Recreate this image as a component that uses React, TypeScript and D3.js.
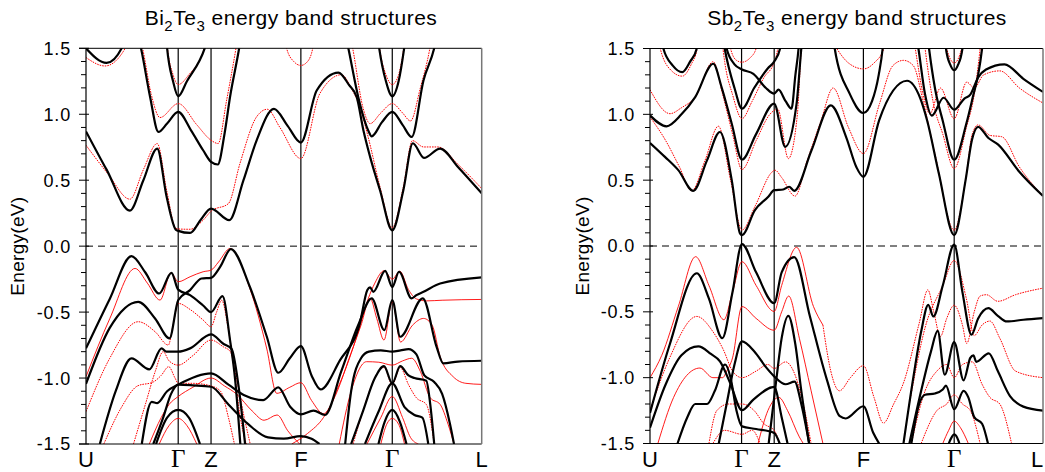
import React from 'react';
import * as d3 from 'd3';

type Pt = [number, number];

// k-path (U=0 ... L=100)
const kPoints = [0, 23.3, 31.6, 54.3, 77.4, 100];
const kLabels = ['U', 'Γ', 'Z', 'F', 'Γ', 'L'];
const yMajor = [1.5, 1.0, 0.5, 0.0, -0.5, -1.0, -1.5];
const yMajorLabels = ['1.5', '1.0', '0.5', '0.0', '-0.5', '-1.0', '-1.5'];

// ---------------- Bi2Te3 ----------------
const biBlack: Pt[][] = [
  [[0,0.87],[5.2,0.58],[11.1,0.27],[14.5,0.5],[18,0.74],[20.4,0.37],[22.7,0.125],[23.3,0.116],[26.3,0.10],[29,0.2],[31.6,0.285],[36.2,0.197],[39.8,0.5],[43.1,0.80],[47.5,1.04],[51,0.91],[54.3,0.785],[58.3,1.18],[63.8,1.316],[66.5,1.22],[68.4,1.131],[70.1,0.879],[71.8,0.677],[74.3,0.424],[77.4,0.12],[80.2,0.424],[82.6,0.78],[85.4,0.669],[89.5,0.74],[94,0.6],[100,0.40]],
  [[0,1.5],[5.2,1.389],[9,1.5],[11.5,1.75],[13.9,1.5],[16.2,1.131],[18.3,0.866],[20.5,0.93],[23.3,1.018],[26.5,0.88],[29.6,0.727],[31.6,0.639],[33.3,0.619],[35,0.85],[36.4,1.131],[38.7,1.5],[40,1.75]],
  [[63,1.95],[66.3,1.5],[68.8,1.131],[71.3,0.879],[72.2,0.833],[74.8,0.94],[77.4,1.018],[80,0.92],[82.3,0.828],[85.3,1.258],[88,1.5],[90,1.8]],
  [[19.5,1.9],[20.5,1.5],[22,1.25],[23.3,1.136],[25.5,1.25],[30,1.5],[31.5,1.65]],
  [[72.5,1.9],[74.1,1.5],[75.8,1.25],[77.4,1.136],[79,1.25],[80.4,1.5],[82,1.9]],
  [[0,-0.775],[6,-0.40],[11.5,-0.076],[15,-0.2],[18.5,-0.359],[21.6,-0.202],[23.3,-0.33],[26.3,-0.371],[29.6,-0.45],[31.6,-0.50],[34.5,-0.379],[36.4,-0.712],[37.7,-1.015],[39,-1.5]],
  [[0,-1.045],[6,-0.62],[13.2,-0.422],[17.5,-0.55],[21.1,-0.699],[23.3,-0.41],[26.3,-0.333],[29.2,-0.245],[31.6,-0.24],[33.9,-0.157],[36.6,-0.023],[41.4,-0.308],[45.7,-0.687],[48.6,-0.96],[51.5,-0.85],[54.3,-0.758],[57,-0.98],[59.3,-1.086],[64.2,-0.864],[69.2,-0.586],[71.1,-0.333],[71.8,-0.313],[72.6,-0.346],[75.6,-0.187],[77.4,-0.31],[79.1,-0.194],[82.3,-0.396],[83.5,-0.371],[85.3,-0.346],[89.5,-0.283],[100,-0.237]],
  [[3.5,-1.5],[7.5,-1.1],[11.5,-0.851],[16,-0.934],[19.1,-0.775],[20.3,-0.80],[23.3,-0.80],[26.3,-0.775],[31.6,-0.669],[34.7,-0.74],[36.8,-0.78],[38.5,-1.05],[40.2,-1.5]],
  [[14.1,-1.5],[16.6,-1.18],[18,-1.19],[20.5,-1.1],[23.3,-1.05],[31.6,-0.965],[36,-1.05],[40,-1.13],[44.8,-1.167],[48.6,-1.07],[51.6,-1.217],[54.3,-1.275],[57.5,-1.247],[60.4,-1.28],[64.5,-0.95],[68.8,-0.598],[72.2,-0.396],[75.4,-0.636],[77.4,-0.409],[79.4,-0.687],[85.1,-0.396],[88.6,-0.763],[90.3,-0.889],[94,-0.875],[100,-0.869]],
  [[17,-1.5],[19.5,-1.3],[21.5,-1.12],[23.3,-1.05],[27,-1.055],[31.6,-1.066],[36,-1.2],[41,-1.35],[46,-1.45],[50,-1.46],[54.3,-1.44],[57,-1.46],[59,-1.5]],
  [[17.7,-1.5],[20.5,-1.3],[23.3,-1.242],[26,-1.3],[28.8,-1.5]],
  [[65.5,-1.5],[67,-1.1],[69.5,-0.85],[71.5,-0.80],[74.5,-0.79],[77.4,-0.80],[79.5,-0.79],[81.5,-0.78],[83.5,-0.82],[85.5,-0.98],[88,-1.03],[90,-1.12],[92,-1.35],[93,-1.5]],
  [[67,-1.5],[70,-1.25],[73,-1.0],[75.3,-0.91],[77.4,-1.04],[79.4,-0.91],[81.5,-0.98],[83,-1.0],[86,-1.02],[87,-1.2],[88,-1.5]],
  [[70.5,-1.5],[74,-1.25],[77.4,-1.04],[80.5,-1.22],[83,-1.28],[85,-1.3],[86.5,-1.5]],
  [[73.9,-1.5],[75.5,-1.33],[77.4,-1.242],[79.3,-1.33],[81,-1.5]],
];

const biRedDot: Pt[][] = [
  [[0,0.765],[5.5,0.55],[11.1,0.356],[14.5,0.58],[18,0.778],[20.4,0.42],[22.7,0.134],[23.3,0.13],[26.3,0.128],[29.6,0.197],[31.6,0.265],[36,0.323],[38.9,0.626],[43.1,0.98],[45.8,1.038],[49,0.9],[54.3,0.664],[59.1,1.157],[64.6,1.30],[67,1.2],[69.2,1.055],[71.3,0.828],[74.3,0.449],[77.4,0.14],[80.2,0.449],[82.5,0.80],[85.3,0.752],[89,0.752],[94,0.62],[100,0.437]],
  [[0,1.43],[4.8,1.366],[9.9,1.5],[12,1.75],[14.3,1.5],[16.5,1.15],[18.7,0.975],[23.3,1.081],[28,0.92],[31.6,0.803],[33.4,0.778],[35.5,1.1],[37.9,1.5],[39.5,1.8]],
  [[64,1.95],[67.4,1.5],[70,1.05],[71.8,0.929],[74.5,1.01],[77.4,1.081],[80,1.01],[82,0.949],[84.5,1.2],[86.9,1.5],[88.5,1.8]],
  [[19.5,1.9],[20.6,1.5],[22,1.3],[23.3,1.225],[26,1.3],[29.9,1.5],[31.5,1.7]],
  [[72.8,1.9],[74.2,1.5],[75.8,1.3],[77.4,1.225],[79,1.3],[80.3,1.5],[81.8,1.9]],
  [[49,1.9],[50.7,1.5],[52.5,1.4],[54.3,1.37],[56,1.4],[57.3,1.5],[59,1.9]],
  [[0,-1.255],[6,-0.85],[13.2,-0.573],[17.5,-0.65],[20.8,-0.75],[22,-0.6],[23.3,-0.434],[26.3,-0.48],[29.6,-0.56],[31.6,-0.611],[33,-0.5],[34.3,-0.41],[35.8,-0.6],[37.5,-0.95],[39,-1.3],[40.5,-1.5]],
  [[4.5,-1.5],[9,-1.22],[13,-1.06],[17,-1.03],[19,-0.98],[20.9,-0.914],[22.5,-1.0],[23.3,-1.04],[27,-1.04],[31.6,-1.06],[34,-1.1],[36,-1.3],[37.5,-1.5]],
  [[12,-1.5],[15,-1.2],[17.5,-0.95],[19.5,-0.8],[21,-0.87],[23.3,-0.902],[27,-0.83],[31.6,-0.712],[34.7,-0.763],[36.5,-0.8],[38,-1.0],[40,-1.3],[41.5,-1.5]],
  [[67.5,-1.5],[70,-1.25],[73,-1.0],[75.3,-0.92],[77.4,-1.05],[79.4,-0.92],[81.5,-1.05],[83.5,-1.15],[86,-1.2],[88,-1.5]],
];

const biRedSolid: Pt[][] = [
  [[0,-0.99],[6,-0.55],[12.4,-0.169],[15.5,-0.28],[18.7,-0.409],[21.5,-0.202],[23.3,-0.27],[26.3,-0.232],[29.6,-0.194],[31.6,-0.182],[33.5,-0.12],[36.4,-0.018],[41.4,-0.32],[45.7,-0.78],[48.2,-1.116],[51.5,-1.07],[54.3,-1.035],[57,-1.17],[60,-1.27],[64,-1.05],[68.8,-0.65],[71.3,-0.4],[73,-0.28],[75.3,-0.187],[77.4,-0.25],[79.3,-0.19],[81.5,-0.33],[83.5,-0.40],[86,-0.415],[90,-0.41],[100,-0.404]],
  [[16,-1.5],[19,-1.3],[21,-1.2],[23.3,-1.14],[27,-1.07],[31.6,-1.0],[35,-1.06],[38,-1.12],[42,-1.25],[45,-1.32],[48.3,-1.28],[51,-1.4],[54,-1.5]],
  [[18.5,-1.5],[21,-1.36],[23.3,-1.306],[25.5,-1.36],[28,-1.5]],
  [[52,-1.5],[56,-1.42],[60,-1.3],[63.5,-1.1],[66.5,-0.85],[69.5,-0.6],[71.8,-0.396],[73.5,-0.55],[75.3,-0.712],[77.4,-0.42],[79.5,-0.727],[82.5,-0.6],[85.3,-0.548],[87.5,-0.6],[89.5,-0.838],[92.8,-0.99],[96,-1.04],[100,-1.048]],
  [[64,-1.5],[67,-1.1],[70.9,-0.876],[74,-0.88],[77.4,-0.902],[80,-0.87],[82.3,-0.85],[84.5,-0.95],[87,-1.15],[89.5,-1.2],[91.5,-1.35],[93,-1.5]],
  [[74.5,-1.5],[76,-1.35],[77.4,-1.306],[79,-1.35],[80.5,-1.5]],
  [[71,-1.5],[74.5,-1.3],[77.4,-1.14],[80,-1.3],[82,-1.45],[84,-1.5]],
];

// ---------------- Sb2Te3 ----------------
const sbBlack: Pt[][] = [
  [[0,0.783],[3.8,0.677],[7.2,0.576],[11,0.419],[14.5,0.65],[17.8,0.866],[20.8,0.5],[22.9,0.096],[23.4,0.083],[26.7,0.273],[30.1,0.374],[31.6,0.424],[33.9,0.429],[35.4,0.45],[36.7,0.419],[41.1,0.727],[46,1.068],[50,0.82],[52.5,0.6],[54.3,0.525],[58.3,0.955],[65.4,1.255],[68.8,1.119],[70.5,0.955],[73.5,0.55],[77.4,0.083],[80.3,0.5],[81.9,0.803],[83.5,0.905],[86.1,0.82],[88.6,0.77],[93.8,0.57],[100,0.38]],
  [[0,0.992],[4.2,0.909],[8,1.0],[11.5,1.131],[16.1,1.384],[18.2,1.207],[20.8,0.929],[23.4,0.657],[27,0.85],[31.6,1.081],[34.4,0.753],[37.3,1.081],[38.5,1.5],[39.5,1.8]],
  [[17,1.9],[19,1.5],[21.5,1.2],[23.4,1.043],[26.5,1.2],[30,1.35],[31.6,1.40],[33.1,1.5],[34,1.8]],
  [[18.5,1.8],[19.5,1.5],[21.5,1.38],[23.4,1.341],[26.3,1.308],[29.5,1.2],[31.6,1.157],[32.7,1.187],[34.5,1.1],[36,1.043],[37,1.3],[37.8,1.5],[38.5,1.8]],
  [[2,1.8],[3.4,1.5],[5.8,1.37],[8.2,1.32],[10.2,1.4],[11.9,1.5],[13,1.8]],
  [[46,1.8],[47,1.5],[50.8,1.157],[54.3,1.01],[56.5,1.1],[58.2,1.3],[59.2,1.5],[60,1.8]],
  [[66,1.9],[68.3,1.5],[70,1.15],[71.7,0.99],[74.7,1.126],[77.4,1.035],[80,1.12],[81.5,1.15],[83.5,1.28],[85.5,1.34],[90.2,1.38],[95,1.27],[100,1.17]],
  [[69.5,1.9],[71,1.5],[72.5,1.2],[74.5,0.95],[77.4,0.655],[80.5,0.93],[82.3,1.15],[83.5,1.3],[84.5,1.5],[85.5,1.8]],
  [[74.5,1.9],[75.3,1.5],[76.5,1.37],[77.4,1.335],[78.3,1.37],[79.5,1.5],[80.3,1.9]],
  [[0,-1.268],[5,-0.75],[11.9,-0.207],[15,-0.4],[18.4,-0.70],[21,-0.35],[23.4,0.015],[27,-0.2],[31.6,-0.434],[33.5,-0.2],[36.7,-0.084],[40.7,-0.535],[45,-1.015],[48.3,-1.293],[49.8,-1.31],[54.3,-1.217],[56.8,-1.419],[58.3,-1.5]],
  [[64.5,-1.5],[67,-1.0],[69,-0.65],[70.8,-0.447],[72.1,-0.535],[74.5,-0.3],[77.4,0.01],[79.5,-0.35],[81.8,-0.674],[83.5,-0.55],[86.1,-0.472],[88.5,-0.53],[90.8,-0.573],[95,-0.56],[100,-0.548]],
  [[0,-1.38],[4,-1.05],[8,-0.83],[12.3,-0.763],[15.5,-0.82],[17.8,-0.876],[20.4,-1.04],[23.4,-1.247],[26.3,-1.167],[31.6,-1.07],[33.5,-1.3],[35,-1.5]],
  [[30.2,-1.5],[32.2,-1.0],[33.5,-0.7],[35.2,-0.53],[37,-0.75],[38.5,-1.1],[40.5,-1.5]],
  [[17.5,-1.5],[19.5,-1.2],[21.5,-0.9],[23.4,-0.725],[26.5,-0.8],[29.5,-0.92],[31.6,-0.99],[34.5,-1.05],[36.8,-1.03],[38.5,-1.2],[40.5,-1.5]],
  [[7,-1.5],[9.5,-1.3],[11.5,-1.2],[14.5,-1.2],[16.5,-1.1],[19.1,-0.9],[20.5,-1.0],[22,-1.25],[23.4,-1.37],[27,-1.39],[31.6,-1.42],[33,-1.5]],
  [[66,-1.5],[69,-1.1],[71.5,-0.8],[73.2,-0.645],[75,-0.977],[77.4,-0.73],[79.8,-1.02],[81.5,-0.85],[82.3,-0.83],[83,-0.88],[86.2,-0.815],[88.5,-0.95],[91.6,-1.14],[95,-1.22],[100,-1.25]],
  [[66.5,-1.5],[68.5,-1.2],[70,-1.13],[72.5,-1.12],[74.5,-1.09],[75.3,-1.06],[77.4,-1.24],[79.8,-1.1],[81,-1.15],[82.5,-1.3],[84.5,-1.35],[86,-1.5]],
  [[75,-1.6],[76.3,-1.48],[77.4,-1.43],[78.5,-1.48],[79.5,-1.6]],
];

const sbRedDot: Pt[][] = [
  [[0,0.98],[4,0.8],[7.5,0.6],[10.6,0.419],[14,0.65],[17.4,0.91],[20.5,0.5],[23.4,0.121],[26.7,0.3],[31,0.56],[31.8,0.576],[33.5,0.52],[36.9,0.379],[40,0.65],[43.5,0.95],[46.6,1.20],[50.5,0.9],[54.3,0.702],[58.4,1.081],[61.8,1.37],[64.5,1.41],[67,1.37],[69.5,1.1],[72.5,0.7],[77.4,0.12],[80.3,0.5],[82,0.85],[83.5,0.92],[86.5,0.84],[89.5,0.83],[94,0.6],[100,0.38]],
  [[0,1.187],[5.1,1.005],[8,1.05],[11.5,1.131],[16.1,1.40],[18.5,1.15],[21,0.85],[23.4,0.581],[27,0.8],[30.5,1.0],[32.5,1.04],[35.2,0.664],[37.5,1.0],[38.5,1.5],[39.5,1.8]],
  [[17.5,1.8],[19,1.4],[21,1.15],[23.4,0.967],[26,1.1],[29,1.28],[31.6,1.396],[32.5,1.5],[33.5,1.8]],
  [[19.5,1.8],[20.5,1.5],[22,1.41],[23.4,1.396],[25.5,1.43],[27,1.5],[28,1.8]],
  [[1.5,1.8],[2.6,1.5],[5.5,1.33],[8.2,1.29],[10.5,1.38],[12,1.5],[13,1.8]],
  [[45.5,1.6],[47.5,1.5],[50.5,1.39],[54.3,1.345],[57,1.39],[59.5,1.5],[61,1.7]],
  [[65.5,1.9],[67.5,1.5],[69.5,1.15],[71.2,1.005],[73.9,1.2],[77.4,0.967],[80.6,1.245],[82.5,1.2],[84.9,1.3],[89,1.33],[94,1.2],[100,1.086]],
  [[68.5,1.9],[70,1.5],[72,1.1],[74.5,0.85],[77.4,0.588],[80.5,0.9],[82.5,1.15],[84,1.5],[85,1.8]],
  [[74.5,1.8],[75.5,1.5],[77.4,1.39],[79.3,1.5],[80.3,1.8]],
  [[44,-0.6],[46,-0.95],[48.2,-1.1],[51,-1.0],[54.3,-0.909],[57,-1.15],[59.4,-1.345],[62,-1.2],[64.5,-1.04],[68.5,-0.586],[70.7,-0.333],[72.2,-0.5],[73.9,-0.687],[75.5,-0.55],[77.4,-0.45],[79.5,-0.6],[80.6,-0.74],[82.5,-0.5],[84,-0.38],[85.6,-0.37],[88.5,-0.42],[93,-0.37],[100,-0.32]],
  [[0,-1.25],[5,-0.85],[11.9,-0.535],[16,-0.65],[18.7,-0.79],[21,-0.95],[23.4,-1.0],[27,-0.95],[30,-0.9],[31.6,-0.93],[34.5,-0.88],[36.5,-0.95],[39,-1.2],[41,-1.5]],
  [[66,-1.2],[70,-0.62],[74.5,-0.3],[77.4,-0.11],[80.5,-0.4],[82.5,-0.68],[84.5,-0.6],[86.5,-0.57],[89,-0.7],[93,-0.95],[100,-1.0]],
  [[15,-1.5],[17,-1.25],[20,-1.2],[23.4,-1.2],[26.5,-1.25],[29,-1.35],[31.6,-1.4],[33,-1.5]],
  [[16,-1.5],[19,-1.4],[23.4,-1.43],[26,-1.4],[28,-1.5]],
  [[66.5,-1.5],[70,-1.1],[73,-0.95],[75.5,-0.9],[77.4,-1.0],[79.5,-0.9],[82,-0.88],[84.5,-1.05],[86.5,-1.15],[89,-1.2],[92,-1.5]],
  [[69,-1.5],[73,-1.25],[75.5,-1.2],[77.4,-1.13],[79.5,-1.2],[81.5,-1.25],[84,-1.5]],
];

const sbRedSolid: Pt[][] = [
  [[0,-1.0],[3,-0.83],[7.2,-0.46],[11.6,-0.081],[15,-0.3],[18.8,-0.56],[21,-0.35],[23.4,-0.119],[27,-0.3],[31.6,-0.497],[33.5,-0.3],[37.3,-0.01],[41.6,-0.46],[44,-0.6]],
  [[2,-1.5],[6,-1.15],[12.7,-0.927],[16,-1.0],[18.5,-1.0],[19.5,-0.95],[21,-0.85],[23.4,-0.46],[27,-0.55],[31.6,-0.64],[33.5,-0.5],[35.3,-0.38],[38,-0.7],[41,-1.1],[44,-1.5]],
  [[27.5,-1.5],[30,-1.25],[32.8,-1.15],[35,-1.25],[38,-1.45],[39,-1.5]],
  [[74.5,-1.5],[76,-1.4],[77.4,-1.33],[79,-1.38],[81,-1.5]],
];

interface PanelProps {
  id: string;
  x0: number; x1: number; y0: number; y1: number;
  formula: [string, string, string, string];
  titleX: number; ylabelX: number; lastLabelX: number;
  black: Pt[][]; redDot: Pt[][]; redSolid: Pt[][];
}

const FONT = 'Liberation Sans, Arial, Helvetica, sans-serif';
const SERIF = 'Liberation Serif, Times New Roman, serif';

function Panel(p: PanelProps) {
  const x = d3.scaleLinear().domain([0, 100]).range([p.x0, p.x1]);
  const y = d3.scaleLinear().domain([-1.5, 1.5]).range([p.y1, p.y0]);
  const line = d3.line<Pt>().x(d => x(d[0])).y(d => y(d[1])).curve(d3.curveMonotoneX);
  const minor = d3.range(-15, 16).map(v => v / 10).filter(v => Math.abs(Math.round(v * 2) - v * 2) > 1e-6);
  const [a, s1, b, s2] = p.formula;
  return (
    <g>
      <defs>
        <clipPath id={p.id}>
          <rect x={p.x0} y={p.y0} width={p.x1 - p.x0} height={p.y1 - p.y0} />
        </clipPath>
      </defs>
      <text x={p.titleX} y={25} textAnchor="middle" fontFamily={FONT} fontSize={21} letterSpacing={0.5}>
        {a}<tspan dy={6} fontSize={15}>{s1}</tspan><tspan dy={-6}>{b}</tspan><tspan dy={6} fontSize={15}>{s2}</tspan><tspan dy={-6}> energy band structures</tspan>
      </text>
      <text transform={`translate(${p.ylabelX},${(p.y0 + p.y1) / 2}) rotate(-90)`} textAnchor="middle" fontFamily={FONT} fontSize={19} letterSpacing={0.3}>Energy(eV)</text>
      {kPoints.slice(1, 5).map((k, i) => (
        <line key={'v' + i} x1={x(k)} x2={x(k)} y1={p.y0} y2={p.y1} stroke="#000" strokeWidth={1.2} />
      ))}
      <line x1={p.x0} x2={p.x1} y1={y(0)} y2={y(0)} stroke="#000" strokeWidth={1} strokeDasharray="7,5" />
      <g clipPath={`url(#${p.id})`} fill="none">
        {p.redSolid.map((d, i) => <path key={'rs' + i} d={line(d) || ''} stroke="#f00" strokeWidth={0.9} />)}
        {p.redDot.map((d, i) => <path key={'rd' + i} d={line(d) || ''} stroke="#f00" strokeWidth={1} strokeDasharray="1.6,1" />)}
        {p.black.map((d, i) => <path key={'b' + i} d={line(d) || ''} stroke="#000" strokeWidth={2.2} />)}
      </g>
      <line x1={p.x0 - 7} x2={p.x1} y1={p.y0} y2={p.y0} stroke="#000" strokeWidth={1} />
      <line x1={p.x0 - 7} x2={p.x1} y1={p.y1} y2={p.y1} stroke="#000" strokeWidth={1} />
      <line x1={p.x0} x2={p.x0} y1={p.y0} y2={p.y1} stroke="#000" strokeWidth={1.2} />
      <line x1={p.x1} x2={p.x1} y1={p.y0} y2={p.y1} stroke="#777" strokeWidth={1.5} />
      {yMajor.map((v, i) => (
        <g key={'t' + i}>
          <line x1={p.x0 - 7} x2={p.x0 + 3} y1={y(v)} y2={y(v)} stroke="#000" strokeWidth={1} />
          <text x={p.x0 - 15} y={y(v)} dy="0.36em" textAnchor="end" fontFamily={FONT} fontSize={18} letterSpacing={0.8}>{yMajorLabels[i]}</text>
        </g>
      ))}
      {minor.map((v, i) => (
        <line key={'m' + i} x1={p.x0 - 5} x2={p.x0} y1={y(v)} y2={y(v)} stroke="#000" strokeWidth={1} />
      ))}
      {kPoints.map((k, i) => (
        <text key={'k' + i} x={i === 5 ? p.lastLabelX : x(k)} y={p.y1 + 23} textAnchor="middle"
          fontFamily={kLabels[i] === 'Γ' ? SERIF : FONT}
          fontSize={kLabels[i] === 'Γ' ? 25 : 22}>{kLabels[i]}</text>
      ))}
    </g>
  );
}

export default function App() {
  return (
    <svg width={1045} height={472} style={{ position: 'absolute', left: 0, top: 0, background: '#fff' }}>
      <rect width={1045} height={472} fill="#fff" />
      <Panel id="clipBi" x0={86} x1={481.7} y0={48.3} y1={444}
        formula={['Bi', '2', 'Te', '3']}
        titleX={291} ylabelX={24} lastLabelX={481.7} black={biBlack} redDot={biRedDot} redSolid={biRedSolid} />
      <Panel id="clipSb" x0={650} x1={1043} y0={48.5} y1={443.5}
        formula={['Sb', '2', 'Te', '3']}
        titleX={857} ylabelX={589} lastLabelX={1037} black={sbBlack} redDot={sbRedDot} redSolid={sbRedSolid} />
    </svg>
  );
}
